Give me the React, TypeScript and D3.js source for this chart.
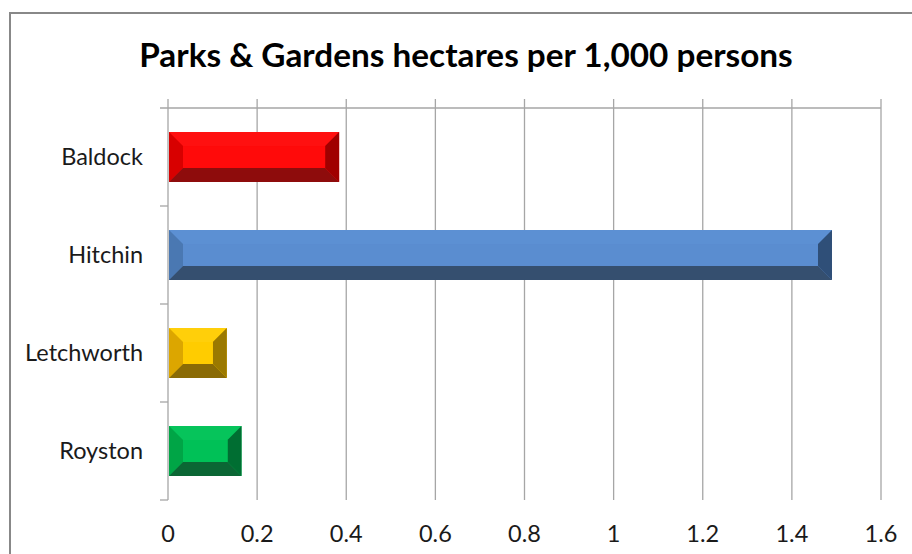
import * as d3 from "d3";

const categories = ["Baldock", "Hitchin", "Letchworth", "Royston"];
const values = [0.384, 1.49, 0.132, 0.165];
const xTicks = [0, 0.2, 0.4, 0.6, 0.8, 1, 1.2, 1.4, 1.6];
const title = "Parks & Gardens hectares per 1,000 persons";

// face, top, left, right, bottom shades per bar
const palettes = [
  ["#ff0a0a", "#ff1010", "#d80000", "#a00000", "#8e0c0c"],
  ["#5a8dd0", "#5c90d3", "#4a78b2", "#2f4f78", "#354f6f"],
  ["#ffcc00", "#ffcf0a", "#dca600", "#9b7900", "#8a6b06"],
  ["#00c157", "#06c45b", "#00a546", "#006e32", "#0b6634"],
];

const W = 912;
const H = 554;
const left = 168;
const right = 881;
const top = 108;
const bottom = 500;
const font = "Lato, 'Open Sans', sans-serif";

export default function App() {
  const x = d3.scaleLinear().domain([0, 1.6]).range([left, right]);
  const y = d3
    .scaleBand<string>()
    .domain(categories)
    .range([top, bottom])
    .paddingInner(0.49)
    .paddingOuter(0.245);
  const step = y.step();

  return (
    <svg
      width={W}
      height={H}
      style={{ position: "absolute", left: 0, top: 0, background: "#fff" }}
    >
      <rect x={10} y={13} width={W + 20} height={H + 20} fill="#fff" stroke="#888" strokeWidth={2} />
      <text
        x={466}
        y={67}
        textAnchor="middle"
        fontFamily={font}
        fontWeight="bold"
        fontSize={33.3}
        fill="#000"
      >
        {title}
      </text>

      {/* gridlines / value axis ticks */}
      {xTicks.map((t) => (
        <line key={t} x1={x(t)} x2={x(t)} y1={top - 9} y2={bottom} stroke="#a6a6a6" strokeWidth={1.3} />
      ))}
      <line x1={left - 8} x2={right} y1={top} y2={top} stroke="#a6a6a6" strokeWidth={1.3} />
      {categories.map((c) => (
        <line
          key={c}
          x1={left - 8}
          x2={left}
          y1={(y(c) as number) - step * 0.245 + step}
          y2={(y(c) as number) - step * 0.245 + step}
          stroke="#a6a6a6"
          strokeWidth={1.3}
        />
      ))}

      {/* bars with bevel */}
      {categories.map((c, i) => {
        const x0 = x(0) + 1;
        const x1 = x(values[i]);
        const y0 = y(c) as number;
        const y1 = y0 + y.bandwidth();
        const b = Math.min(14, (x1 - x0) / 2 - 1);
        const [face, topC, leftC, rightC, botC] = palettes[i];
        const ix0 = x0 + b;
        const ix1 = x1 - b;
        const iy0 = y0 + 14;
        const iy1 = y1 - 14;
        return (
          <g key={c}>
            <rect x={x0} y={y0} width={x1 - x0} height={y1 - y0} fill={face} />
            <polygon points={`${x0},${y0} ${x1},${y0} ${ix1},${iy0} ${ix0},${iy0}`} fill={topC} />
            <polygon points={`${x0},${y0} ${ix0},${iy0} ${ix0},${iy1} ${x0},${y1}`} fill={leftC} />
            <polygon points={`${x1},${y0} ${x1},${y1} ${ix1},${iy1} ${ix1},${iy0}`} fill={rightC} />
            <polygon points={`${x0},${y1} ${ix0},${iy1} ${ix1},${iy1} ${x1},${y1}`} fill={botC} />
            <rect x={ix0} y={iy0} width={ix1 - ix0} height={iy1 - iy0} fill={face} />
          </g>
        );
      })}

      {/* category labels */}
      {categories.map((c) => (
        <text
          key={c}
          x={143}
          y={(y(c) as number) + y.bandwidth() / 2 + 8}
          textAnchor="end"
          fontFamily={font}
          fontSize={23.5}
          fill="#1a1a1a"
        >
          {c}
        </text>
      ))}

      {/* value labels */}
      {xTicks.map((t) => (
        <text
          key={t}
          x={x(t)}
          y={542}
          textAnchor="middle"
          fontFamily={font}
          fontSize={23.5}
          fill="#1a1a1a"
        >
          {String(t)}
        </text>
      ))}
    </svg>
  );
}
